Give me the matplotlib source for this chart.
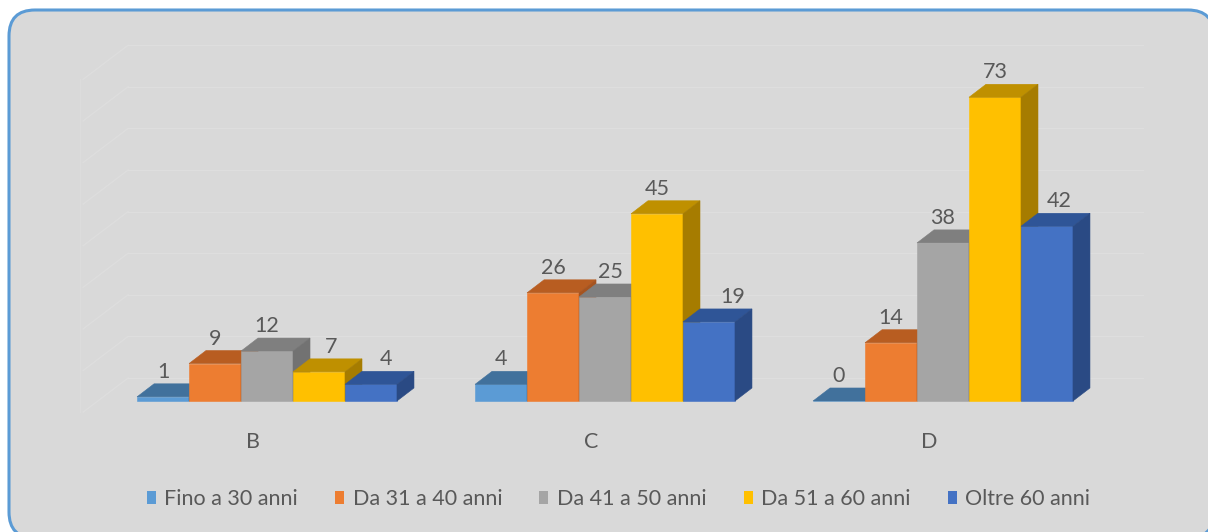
import matplotlib
matplotlib.use("Agg")
import matplotlib.pyplot as plt
from matplotlib.patches import Polygon, FancyBboxPatch, Rectangle

plt.rcParams['font.family'] = ['Lato', 'DejaVu Sans']

# dati
categories = ['B', 'C', 'D']
series_names = ['Fino a 30 anni', 'Da 31 a 40 anni', 'Da 41 a 50 anni',
                'Da 51 a 60 anni', 'Oltre 60 anni']
values = [
    [1, 4, 0],      # Fino a 30 anni
    [9, 26, 14],    # Da 31 a 40 anni
    [12, 25, 38],   # Da 41 a 50 anni
    [7, 45, 73],    # Da 51 a 60 anni
    [4, 19, 42],    # Oltre 60 anni
]
grid_values = list(range(0, 90, 10))

# spostamento orizzontale delle etichette (punti), per non coprire la barra vicina
label_shift = [
    [0, 0, 0],
    [0, 0, 0],
    [0, 4, 0],
    [9, 0, 0],
    [11, 17, 9],
]

# colori: fronte, sopra, lato
front = ['#5B9BD5', '#ED7D31', '#A5A5A5', '#FFC000', '#4472C4']
top = ['#41719C', '#B85D21', '#7F7F7F', '#BF9000', '#2F5597']
side = ['#3A6690', '#A65420', '#727272', '#A67C00', '#2A4A84']
text_col = '#595959'

W, H = 1208, 532
fig = plt.figure(figsize=(W / 100, H / 100), dpi=100)

# cornice arrotondata
bg = fig.add_axes([0, 0, 1, 1])
bg.set_xlim(0, W)
bg.set_ylim(H, 0)
bg.axis('off')
bg.add_patch(FancyBboxPatch((9, 10), 1205, 528,
                            boxstyle='round,pad=0,rounding_size=26',
                            facecolor='#D9D9D9', edgecolor='#5B9BD5',
                            linewidth=2.2, clip_on=False))

ax = fig.add_axes([0, 0, 1, 1])
ax.patch.set_alpha(0)
ax.axis('off')
ax.set_xlim(-0.79, 2.784)
ax.set_ylim(-31.49, 96.39)

bw = 0.1538          # larghezza barra
dx, dy = 0.0503, 3.13  # profondita barra
wall_x0, wall_x1 = -0.411, 2.592
wall_dy = 5.53
floor_dx, floor_dy = 0.133, 8.2

# griglia su parete di fondo e parete laterale
grid_col = '#DEDEDE'
for g in grid_values:
    yb = g + wall_dy
    ax.plot([wall_x0, wall_x1], [yb, yb], color=grid_col, lw=1.0, zorder=1)
    ax.plot([wall_x0 - floor_dx, wall_x0], [yb - floor_dy, yb],
            color=grid_col, lw=0.9, zorder=1)
ax.plot([wall_x0 - floor_dx - 0.01] * 2, [wall_dy - floor_dy, 80 + wall_dy - floor_dy],
        color='#DCDCDC', lw=0.8, zorder=1)

for i, cat in enumerate(categories):
    for j in range(len(series_names)):
        v = values[j][i]
        x0 = i + (j - 2.5) * bw
        x1 = x0 + bw
        ax.add_patch(Polygon([(x0, 0), (x1, 0), (x1, v), (x0, v)],
                             facecolor=front[j], edgecolor=front[j], lw=0.4, zorder=3))
        ax.add_patch(Polygon([(x0, v), (x1, v), (x1 + dx, v + dy), (x0 + dx, v + dy)],
                             facecolor=top[j], edgecolor=top[j], lw=0.4, zorder=3))
        ax.add_patch(Polygon([(x1, 0), (x1 + dx, dy), (x1 + dx, v + dy), (x1, v)],
                             facecolor=side[j], edgecolor=side[j], lw=0.4, zorder=3))
        ax.annotate(str(v), (x0 + bw / 2, v + dy),
                    xytext=(label_shift[j][i], 8.6),
                    textcoords='offset points', ha='center', va='center',
                    fontsize=15.5, color=text_col, zorder=5)
    ax.text(i - 0.042, -9.9, cat, ha='center', va='center',
            fontsize=15.5, color=text_col)

handles = [Rectangle((0, 0), 1, 1, facecolor=c, edgecolor='none') for c in front]
fig.legend(handles, series_names, loc='center', bbox_to_anchor=(0.512, 0.062),
           ncol=5, frameon=False, fontsize=15.5, labelcolor=text_col,
           handlelength=0.42, handleheight=0.6, handletextpad=0.4,
           columnspacing=1.72)

fig.savefig('out.png', dpi=100, facecolor='white')
